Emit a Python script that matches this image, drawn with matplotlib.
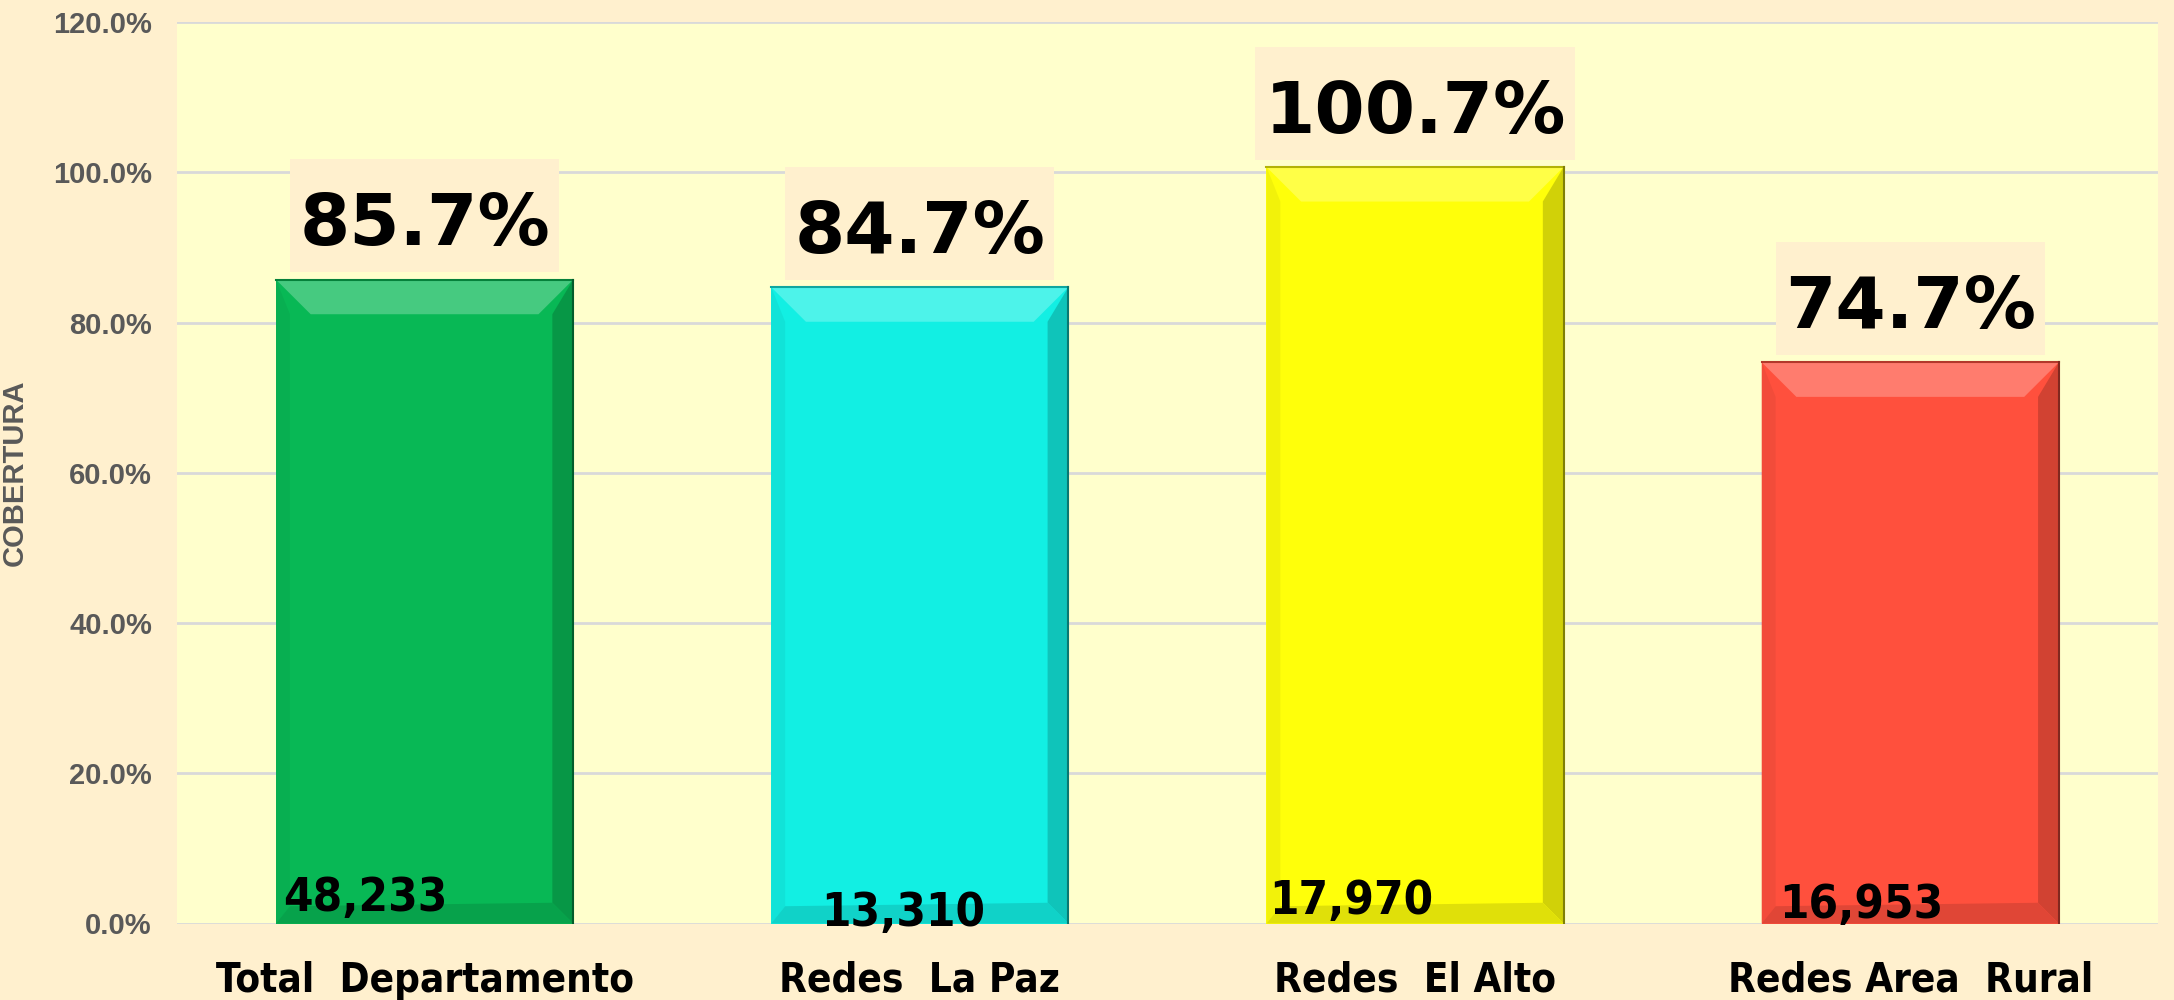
import matplotlib.pyplot as plt
import matplotlib.colors as mcolors
from matplotlib.patches import Polygon, Rectangle
from matplotlib.transforms import IdentityTransform

categories = ["Total  Departamento", "Redes  La Paz", "Redes  El Alto", "Redes Area  Rural"]
coverage = [85.7, 84.7, 100.7, 74.7]
counts = ["48,233", "13,310", "17,970", "16,953"]
bar_colors = ["#08B855", "#12EFE3", "#FFFF0A", "#FF503D"]

# manual placement of the count labels (offset from bar left, baseline height)
count_dx = [0.015, 0.10, 0.005, 0.035]
count_y = [1.7, -0.35, 1.3, 0.75]

FIG_BG = "#FFF0CE"
AX_BG = "#FFFFCC"
TICK_CLR = "#595959"


def shade(c, f):
    r, g, b = mcolors.to_rgb(c)
    if f >= 0:
        return (r + (1 - r) * f, g + (1 - g) * f, b + (1 - b) * f)
    return (r * (1 + f), g * (1 + f), b * (1 + f))


fig = plt.figure(figsize=(21.74, 10), dpi=100, facecolor=FIG_BG)
ax = fig.add_axes([0.0814, 0.0765, 0.9112, 0.9015])
ax.set_facecolor(AX_BG)

x = list(range(len(categories)))
width = 0.6
bars = ax.bar(x, coverage, width=width, color=bar_colors, zorder=2,
              edgecolor="none")

# bevel effect on each bar
bx, by = 0.07, 4.6
for b, c in zip(bars, bar_colors):
    x0, w, h = b.get_x(), b.get_width(), b.get_height()
    x1 = x0 + w
    top = Polygon([(x0, h), (x1, h), (x1 - bx, h - by), (x0 + bx, h - by)],
                  closed=True, facecolor=shade(c, 0.25), edgecolor="none", zorder=3)
    right = Polygon([(x1, h), (x1, 0), (x1 - bx * 0.6, by * 0.6), (x1 - bx * 0.6, h - by)],
                    closed=True, facecolor=shade(c, -0.18), edgecolor="none", zorder=3)
    left = Polygon([(x0, h), (x0, 0), (x0 + bx * 0.4, by * 0.5), (x0 + bx * 0.4, h - by)],
                   closed=True, facecolor=shade(c, -0.05), edgecolor="none", zorder=3)
    bottom = Polygon([(x0, 0), (x1, 0), (x1 - bx * 0.6, by * 0.6), (x0 + bx * 0.4, by * 0.5)],
                     closed=True, facecolor=shade(c, -0.12), edgecolor="none", zorder=3)
    for p in (top, right, left, bottom):
        ax.add_patch(p)
    ax.plot([x0, x1], [h, h], color=shade(c, -0.3), lw=1.5, zorder=4)
    ax.plot([x1, x1], [0, h], color=shade(c, -0.5), lw=1.5, zorder=4)

# big percentage labels
pct_labels = []
for xi, v in zip(x, coverage):
    t = ax.annotate(f"{v:.1f}%", (xi, v), xytext=(0, 14), textcoords="offset points",
                    ha="center", va="bottom", fontsize=52, fontweight="bold",
                    color="black", zorder=5)
    pct_labels.append(t)

# count labels at the bottom of the bars
for b, t, dx, yy in zip(bars, counts, count_dx, count_y):
    ax.text(b.get_x() + dx, yy, t, ha="left", va="baseline", fontsize=34,
            fontweight="bold", fontstretch="condensed", family="DejaVu Sans",
            color="black", zorder=5)

ax.set_xlim(-0.5, 3.5)
ax.set_ylim(0, 120)
ax.set_yticks(range(0, 121, 20))
ax.set_yticklabels([f"{t:.1f}%" for t in range(0, 121, 20)])
ax.yaxis.grid(True, color="#D9D9D9", lw=2, zorder=0)
ax.set_axisbelow(True)
for s in ax.spines.values():
    s.set_visible(False)
ax.tick_params(axis="y", length=0, pad=18, labelsize=21, labelcolor=TICK_CLR)
for lab in ax.get_yticklabels():
    lab.set_fontweight("bold")
    lab.set_family(["Liberation Sans", "DejaVu Sans"])

ax.set_xticks(x)
ax.set_xticklabels(categories, fontsize=29, fontweight="bold",
                   fontstretch="condensed", family="DejaVu Sans")
ax.tick_params(axis="x", length=0, pad=27)

ax.set_ylabel("COBERTURA", fontsize=21, fontweight="bold", color=TICK_CLR,
              family=["Liberation Sans", "DejaVu Sans"])
ax.yaxis.set_label_coords(-0.075, 0.5)

# peach boxes behind the percentage labels
fig.canvas.draw()
renderer = fig.canvas.get_renderer()
for t in pct_labels:
    bb = t.get_window_extent(renderer)
    box = Rectangle((bb.x0 - 9, bb.y0 - 12), bb.width + 18, bb.height + 44,
                    transform=IdentityTransform(), facecolor=FIG_BG,
                    edgecolor="none", zorder=4.5, clip_on=False)
    ax.add_patch(box)

fig.savefig("out.png", dpi=100, facecolor=FIG_BG)
